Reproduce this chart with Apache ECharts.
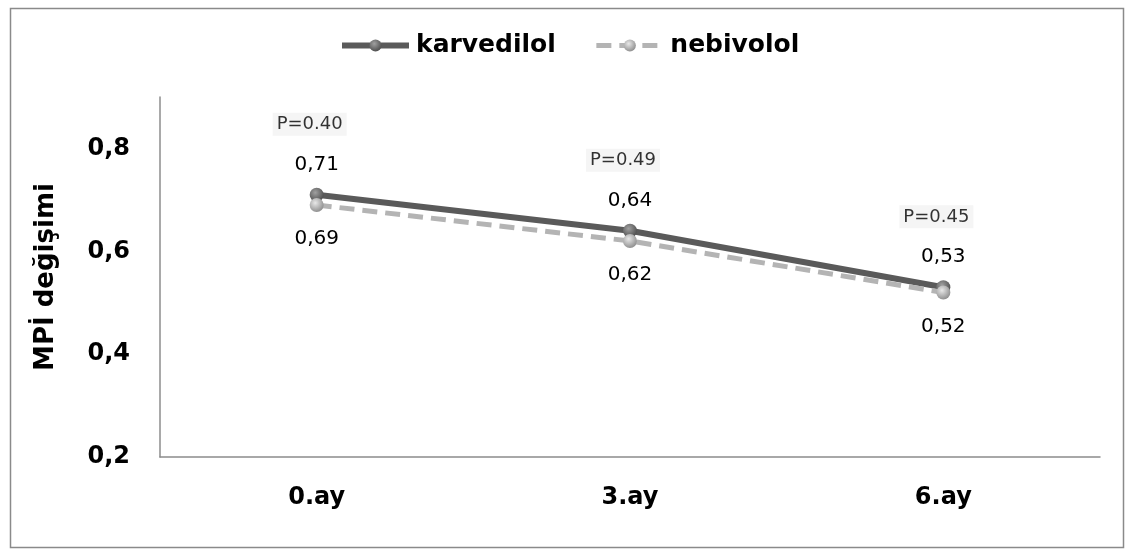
<!DOCTYPE html>
<html>
<head>
<meta charset="utf-8">
<script src="https://cdn.jsdelivr.net/npm/echarts@6/dist/echarts.min.js"></script>
<style>
html,body{margin:0;padding:0;background:#fff;}
#c{width:1129px;height:550px;}
</style>
</head>
<body>
<div id="c"></div>
<script>
const categories = ['0.ay', '3.ay', '6.ay'];
const karvedilol = [0.71, 0.64, 0.53];
const nebivolol = [0.69, 0.62, 0.52];
const pLabels = ['P=0.40', 'P=0.49', 'P=0.45'];
const yTicks = [0.2, 0.4, 0.6, 0.8];

const FONT = '"DejaVu Sans", sans-serif';
const fmt = v => v.toFixed(2).replace('.', ',');

function sphere(c1, c2) {
  return {
    type: 'radial', x: 0.4, y: 0.35, r: 0.7,
    colorStops: [{offset: 0, color: c1}, {offset: 1, color: c2}]
  };
}

const chart = echarts.init(document.getElementById('c'), null, {renderer: 'canvas'});
chart.setOption({
  animation: false,
  backgroundColor: '#fff',
  graphic: [{
    type: 'rect', left: 8, top: 6,
    shape: {width: 1113, height: 539},
    style: {fill: 'none', stroke: '#8a8a8a', lineWidth: 1.5},
    silent: true
  }],
  legend: {
    top: 28, left: 334,
    itemWidth: 67, itemHeight: 15, itemGap: 38,
    data: [
      {name: 'karvedilol', lineStyle: {width: 6}},
      {name: 'nebivolol', lineStyle: {width: 5}}
    ],
    textStyle: {fontFamily: FONT, fontSize: 25, fontWeight: 'bold', color: '#000', padding: [0, 0, 0, 2]}
  },
  grid: {left: 160, right: 29, top: 97, bottom: 93},
  xAxis: {
    type: 'category', data: categories, boundaryGap: true,
    axisLine: {lineStyle: {color: '#8c8c8c', width: 1.5}},
    axisTick: {show: false},
    axisLabel: {margin: 29, fontFamily: FONT, fontSize: 24, fontWeight: 'bold', color: '#000'}
  },
  yAxis: {
    type: 'value', min: 0.2, max: 0.9, interval: 0.2,
    name: 'MPİ değişimi', nameLocation: 'middle', nameGap: 101, nameRotate: 90,
    nameTextStyle: {fontFamily: FONT, fontSize: 26, fontWeight: 'bold', color: '#000'},
    axisLine: {show: true, lineStyle: {color: '#8c8c8c', width: 1.5}},
    axisTick: {show: false},
    splitLine: {show: false},
    axisLabel: {
      margin: 30, fontFamily: FONT, fontSize: 24, fontWeight: 'bold', color: '#000',
      showMaxLabel: false,
      formatter: v => yTicks.some(t => Math.abs(t - v) < 1e-6) ? v.toFixed(1).replace('.', ',') : ''
    }
  },
  series: [
    {
      name: 'karvedilol', type: 'line', data: karvedilol, z: 3,
      symbol: 'circle', symbolSize: 14,
      lineStyle: {color: '#5a5a5a', width: 6},
      itemStyle: {color: sphere('#a0a0a0', '#4a4a4a'), borderWidth: 0},
      label: {
        show: true, position: 'top', distance: 13,
        formatter: p => fmt(p.value),
        fontFamily: FONT, fontSize: 20, color: '#000'
      }
    },
    {
      name: 'nebivolol', type: 'line', data: nebivolol, z: 4,
      symbol: 'circle', symbolSize: 14,
      lineStyle: {color: '#b4b4b4', width: 5, type: [15, 8]},
      itemStyle: {color: sphere('#e8e8e8', '#8a8a8a'), borderWidth: 0},
      label: {
        show: true, position: 'bottom', distance: 17,
        formatter: p => fmt(p.value),
        fontFamily: FONT, fontSize: 20, color: '#000'
      }
    },
    {
      name: 'p', type: 'scatter', data: karvedilol, z: 5,
      symbolSize: 0, silent: true,
      label: {
        show: true, position: 'top', distance: 0, offset: [-7, -59],
        formatter: p => pLabels[p.dataIndex],
        fontFamily: FONT, fontSize: 18, color: '#000',
        backgroundColor: '#f2f2f2', padding: [3, 4, 2, 4]
      }
    }
  ]
});
</script>
</body>
</html>
